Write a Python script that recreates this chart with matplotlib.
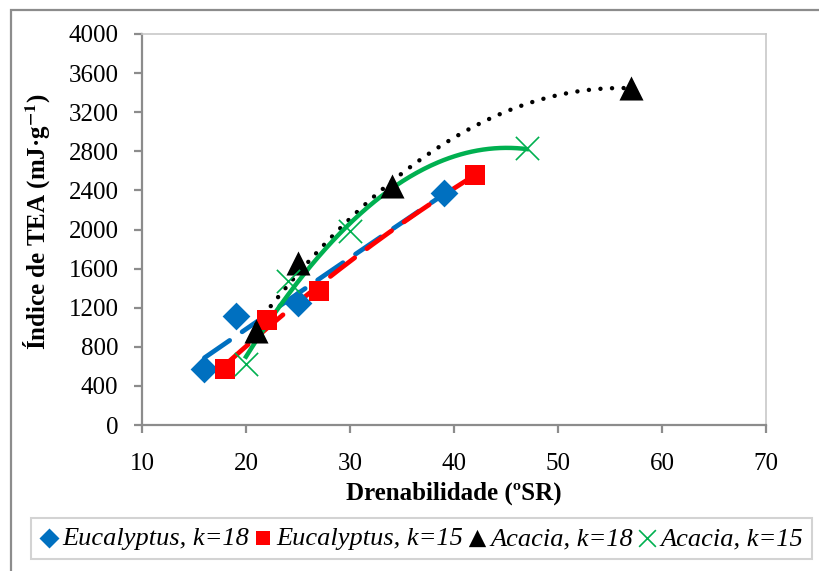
import numpy as np
import matplotlib
matplotlib.use("Agg")
import matplotlib.pyplot as plt
from matplotlib.patches import Rectangle

# Data
euc18_x = [16, 19, 25, 39]
euc18_y = [570, 1110, 1250, 2370]
euc15_x = [18, 22, 27, 42]
euc15_y = [575, 1075, 1375, 2560]
aca18_x = [21, 25, 34, 57]
aca18_y = [965, 1655, 2445, 3450]
aca15_x = [20, 24, 30, 47]
aca15_y = [625, 1470, 1985, 2830]

series_labels = ["Eucalyptus, k=18", "Eucalyptus, k=15", "Acacia, k=18", "Acacia, k=15"]
x_ticks = [10, 20, 30, 40, 50, 60, 70]
y_ticks = list(range(0, 4001, 400))

plt.rcParams["font.family"] = ["Liberation Serif", "DejaVu Serif"]
plt.rcParams["mathtext.fontset"] = "stix"

W, H = 819, 571
fig = plt.figure(figsize=(W / 100, H / 100), dpi=100)
ax = fig.add_axes([142 / W, 1 - 425 / H, 624 / W, 391 / H])

blue = "#0070C0"
red = "#FF0000"
green = "#00B050"
axis_grey = "#8C8C8C"
frame_grey = "#C8C8C8"


def trend(xs, ys):
    # second-order polynomial trendline, as in the spreadsheet chart
    coef = np.polyfit(xs, ys, 2)
    xx = np.linspace(min(xs), max(xs), 200)
    return xx, np.polyval(coef, xx)


tx, ty = trend(euc18_x, euc18_y)
ax.plot(tx, ty, color=blue, lw=3.4, dashes=(6.5, 3.2), dash_capstyle="round", zorder=2)
tx, ty = trend(euc15_x, euc15_y)
ax.plot(tx, ty, color=red, lw=3.4, dashes=(6.5, 3.2), dash_capstyle="round", zorder=2)
tx, ty = trend(aca18_x, aca18_y)
ax.plot(tx, ty, color="black", lw=3.2, linestyle=(0, (0.01, 2.6)), dash_capstyle="round", zorder=2)
tx, ty = trend(aca15_x, aca15_y)
ax.plot(tx, ty, color=green, lw=3.2, zorder=2)

h1 = ax.scatter(euc18_x, euc18_y, marker="D", s=200, color=blue, zorder=3, linewidths=0)
h2 = ax.scatter(euc15_x, euc15_y, marker="s", s=215, color=red, zorder=3, linewidths=0)
h3 = ax.scatter(aca18_x, aca18_y, marker="^", s=300, color="black", zorder=3, linewidths=0)
h4 = ax.scatter(aca15_x, aca15_y, marker="x", s=280, color=green, zorder=3, linewidths=1.2)

ax.set_xlim(10, 70)
ax.set_ylim(0, 4000)
ax.set_xticks(x_ticks)
ax.set_yticks(y_ticks)
for side in ("top", "right"):
    ax.spines[side].set_color(frame_grey)
    ax.spines[side].set_linewidth(1.2)
for side in ("left", "bottom"):
    ax.spines[side].set_color(axis_grey)
    ax.spines[side].set_linewidth(1.6)
ax.tick_params(axis="both", direction="out", length=6, width=1.6, color=axis_grey,
               labelsize=18)
ax.tick_params(axis="x", pad=14)
ax.tick_params(axis="y", pad=11)

ax.set_xlabel("Drenabilidade (ºSR)", fontsize=18, fontweight="bold")
ax.xaxis.set_label_coords(0.5, -0.145)
ax.set_ylabel(r"Índice de TEA (mJ·g$^{\mathbf{-1}}$)", fontsize=18, fontweight="bold")
ax.yaxis.set_label_coords(-0.145, 0.52)

leg = fig.legend([h1, h2, h3, h4], series_labels, loc="center",
                 bbox_to_anchor=(31 / W, 1 - 563 / H, 781 / W, 49 / H), mode="expand",
                 ncol=4, frameon=True, fancybox=False, edgecolor=frame_grey,
                 handlelength=0.7, handletextpad=0.15, columnspacing=0.3, borderpad=0.35,
                 borderaxespad=0, prop={"style": "italic", "size": 19}, markerscale=0.72)
leg.get_frame().set_linewidth(1.5)

# outer chart border, cropped at the right and bottom edges
fig.patches.append(Rectangle((11 / W, -0.05), 1.2, 1 - 10 / H + 0.05, transform=fig.transFigure,
                             fill=False, edgecolor=axis_grey, linewidth=1.6))

fig.savefig("out.png", dpi=100)
